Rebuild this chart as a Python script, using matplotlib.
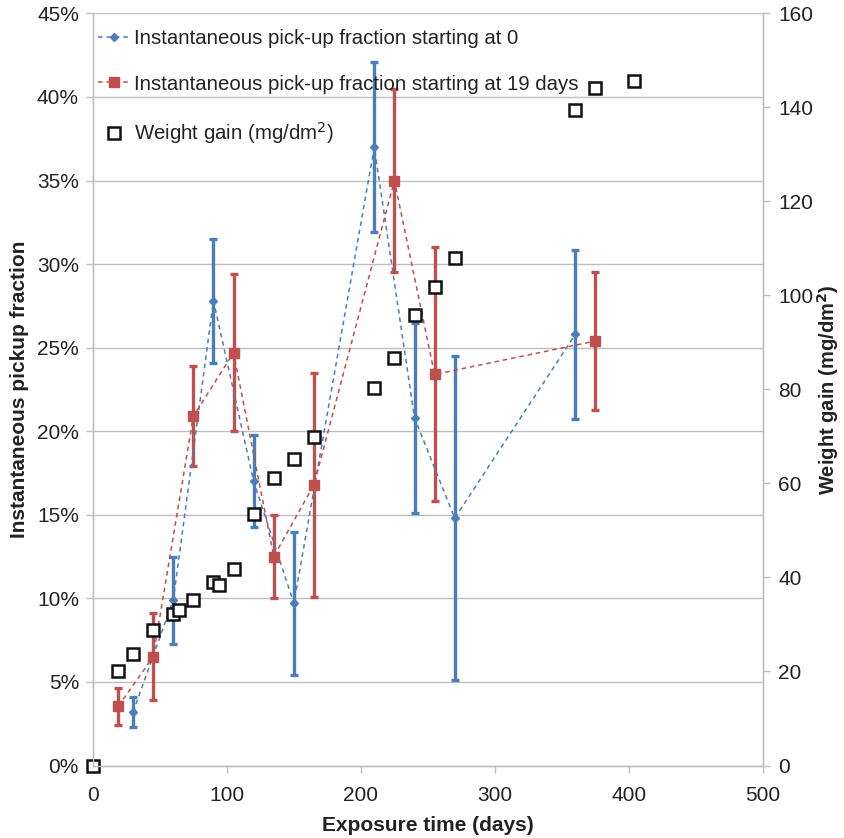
import matplotlib
matplotlib.use("Agg")
import matplotlib.pyplot as plt
from matplotlib.ticker import FuncFormatter, MultipleLocator

plt.rcParams['font.family'] = ['Liberation Sans', 'DejaVu Sans']

# Instantaneous pick-up fraction starting at 0 (blue)
blue_days = [30, 60, 90, 120, 150, 210, 240, 270, 360]
blue_vals = [3.2, 9.9, 27.8, 17.0, 9.7, 37.0, 20.8, 14.8, 25.8]
blue_err = [0.9, 2.6, 3.7, 2.75, 4.3, 5.1, 5.7, 9.7, 5.05]

# Instantaneous pick-up fraction starting at 19 days (red)
red_days = [19, 45, 75, 105, 135, 165, 225, 255, 375]
red_vals = [3.55, 6.5, 20.9, 24.7, 12.5, 16.8, 35.0, 23.4, 25.4]
red_err = [1.1, 2.6, 3.0, 4.7, 2.5, 6.7, 5.5, 7.6, 4.15]

# Weight gain (mg/dm2), right axis
wg_days = [0, 19, 30, 45, 60, 64, 75, 90, 94, 105, 120, 135, 150, 165,
           210, 225, 240, 255, 270, 360, 375, 404]
wg_vals = [0, 20.0, 23.7, 28.8, 32.2, 33.1, 35.3, 39.0, 38.3, 41.9, 53.4,
           61.2, 65.2, 69.8, 80.4, 86.7, 95.9, 101.7, 107.9, 139.5, 144.1, 145.7]

blue = '#4a7ebb'
red = '#c0504d'
grid_c = '#bfbfbf'
txt_c = '#222222'

fig = plt.figure(figsize=(8.44, 8.38), dpi=100)
ax = fig.add_axes([0.110, 0.0865, 0.794, 0.8975])
ax2 = ax.twinx()

ax.errorbar(blue_days, blue_vals, yerr=blue_err, fmt='none', ecolor=blue,
            elinewidth=2.4, capsize=3, capthick=2.4, zorder=3)
lb, = ax.plot(blue_days, blue_vals, ls=(0, (3, 2.5)), lw=1.1, color=blue,
              marker='D', ms=4, mfc=blue, mec=blue, zorder=4,
              label='Instantaneous pick-up fraction starting at 0')
ax.errorbar(red_days, red_vals, yerr=red_err, fmt='none', ecolor=red,
            elinewidth=2.4, capsize=3, capthick=2.4, zorder=3)
lr, = ax.plot(red_days, red_vals, ls=(0, (3, 2.5)), lw=1.1, color=red,
              marker='s', ms=6.5, mfc=red, mec=red, zorder=4,
              label='Instantaneous pick-up fraction starting at 19 days')

lw_, = ax2.plot(wg_days, wg_vals, ls='none', marker='s', ms=9, mfc='white',
                mec='#111111', mew=1.8, clip_on=False,
                label='Weight gain (mg/dm$^2$)')

ax.set_xlim(0, 500)
ax.set_ylim(0, 45)
ax2.set_ylim(0, 160)
ax.xaxis.set_major_locator(MultipleLocator(100))
ax.yaxis.set_major_locator(MultipleLocator(5))
ax2.yaxis.set_major_locator(MultipleLocator(20))
ax.yaxis.set_major_formatter(FuncFormatter(lambda v, p: f'{v:.0f}%'))

ax.grid(axis='y', color=grid_c, lw=1.0)
ax.set_axisbelow(True)
for a in (ax, ax2):
    for s in ['top']:
        a.spines[s].set_visible(False)
    for s in ['left', 'right', 'bottom']:
        a.spines[s].set_color(grid_c)
        a.spines[s].set_linewidth(1.0)
    a.tick_params(colors=grid_c, labelcolor=txt_c, labelsize=15, length=5,
                  width=1.0, direction='out')
ax.tick_params(axis='y', pad=5)
ax.tick_params(axis='x', pad=10)
ax2.tick_params(axis='y', pad=6)

ax.set_xlabel('Exposure time (days)', fontsize=15, fontweight='bold',
              color=txt_c, labelpad=8)
ax.set_ylabel('Instantaneous pickup fraction', fontsize=15, fontweight='bold',
              color=txt_c, labelpad=6)
ax2.set_ylabel('Weight gain (mg/dm$^\\mathbf{2}$)', fontsize=14.5, fontweight='bold',
               color=txt_c, labelpad=1)

leg = ax2.legend(handles=[lb, lr, lw_], loc='upper left',
                 bbox_to_anchor=(-0.004, 0.990), frameon=False, fontsize=14.7,
                 handlelength=1.5, handletextpad=0.25, labelspacing=1.3,
                 borderaxespad=0.0)
for t in leg.get_texts():
    t.set_color(txt_c)

fig.savefig('out.png', dpi=100)
